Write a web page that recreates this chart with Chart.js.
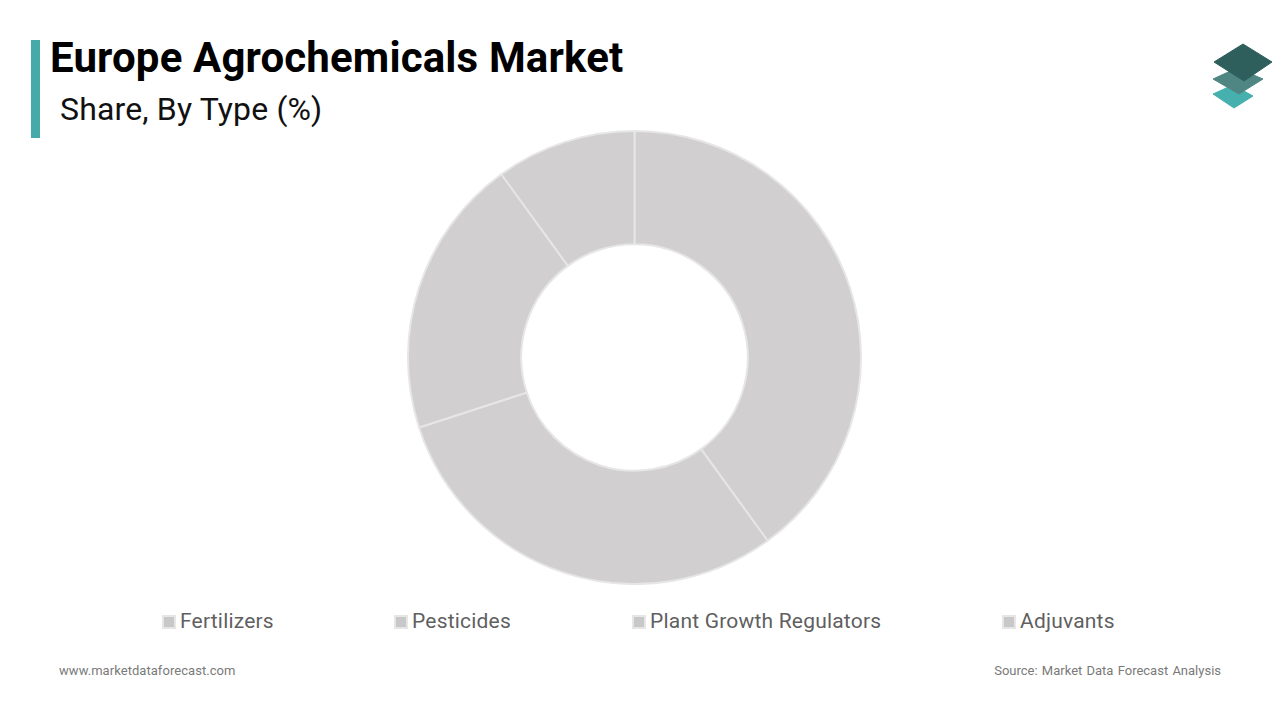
<!DOCTYPE html>
<html>
<head>
<meta charset="utf-8">
<title>Europe Agrochemicals Market</title>
<script src="https://cdn.jsdelivr.net/npm/chart.js@4"></script>
<style>
  html, body { margin: 0; padding: 0; background: #fff; }
  body { width: 1280px; height: 720px; position: relative; overflow: hidden; font-family: Roboto, sans-serif; }
  .abs { position: absolute; white-space: nowrap; }
  #bar { left: 31px; top: 40px; width: 9px; height: 98px; background: #45aaa9; }
  #title { left: 50px; top: 33px; font-size: 42px; line-height: 50px; font-weight: 700; color: #000; letter-spacing: 0.15px; }
  #subtitle { left: 60px; top: 90px; font-size: 32px; line-height: 38px; color: #111; letter-spacing: 0.15px; }
  #chartBox { position: absolute; left: 407px; top: 130px; width: 455px; height: 455px; }
  .legend-item { top: 608px; font-size: 21px; line-height: 26px; color: #5f5f5f; letter-spacing: 0.2px; }
  .legend-box { position: absolute; top: 7px; left: -18px; width: 10px; height: 10px; background: #c9c8c8; border: 2px solid #e6e6e6; }
  .foot { top: 662px; font-size: 13px; line-height: 17px; color: #7a7a7a; }
  #logo { left: 1205px; top: 38px; }
</style>
</head>
<body>
<div class="abs" id="bar"></div>
<div class="abs" id="title">Europe Agrochemicals Market</div>
<div class="abs" id="subtitle">Share, By Type (%)</div>

<svg class="abs" id="logo" width="72" height="75" viewBox="0 0 72 75">
  <path d="M28 47 L48 58 L29 70 L8 56 Z" fill="#45b0ae" stroke="#45b0ae" stroke-linejoin="round"/>
  <path d="M32 30 L58 41 L34 56 L8 41 Z" fill="#4f8683" stroke="#4f8683" stroke-linejoin="round"/>
  <path d="M38 6 L67 24 L39 43 L9 24 Z" fill="#2f5f5c" stroke="#2f5f5c" stroke-linejoin="round"/>
</svg>

<div id="chartBox"><canvas id="shareChart"></canvas></div>

<div id="legend"></div>
<div class="abs foot" style="left:59px; letter-spacing:0.05px">www.marketdataforecast.com</div>
<div class="abs foot" style="right:59px; word-spacing:1px">Source: Market Data Forecast Analysis</div>

<script>
const categories = ['Fertilizers', 'Pesticides', 'Plant Growth Regulators', 'Adjuvants'];
const shares = [40, 30, 20, 10];
const sliceColor = '#d1cfd0';
const legendLeft = [180, 412, 650, 1020];

// Legend sits far apart in the original, so it is plain html
const legend = document.getElementById('legend');
categories.forEach((name, i) => {
  const item = document.createElement('div');
  item.className = 'abs legend-item';
  item.style.left = legendLeft[i] + 'px';
  item.textContent = name;
  const box = document.createElement('span');
  box.className = 'legend-box';
  item.appendChild(box);
  legend.appendChild(item);
});

const ctx = document.getElementById('shareChart');
new Chart(ctx, {
  type: 'doughnut',
  data: {
    labels: categories,
    datasets: [{
      data: shares,
      backgroundColor: sliceColor,
      borderColor: '#e6e6e6',
      borderWidth: 2
    }]
  },
  options: {
    responsive: true,
    maintainAspectRatio: false,
    animation: false,
    cutout: '50%',
    plugins: {
      legend: { display: false },
      tooltip: { enabled: false }
    }
  }
});
</script>
</body>
</html>
